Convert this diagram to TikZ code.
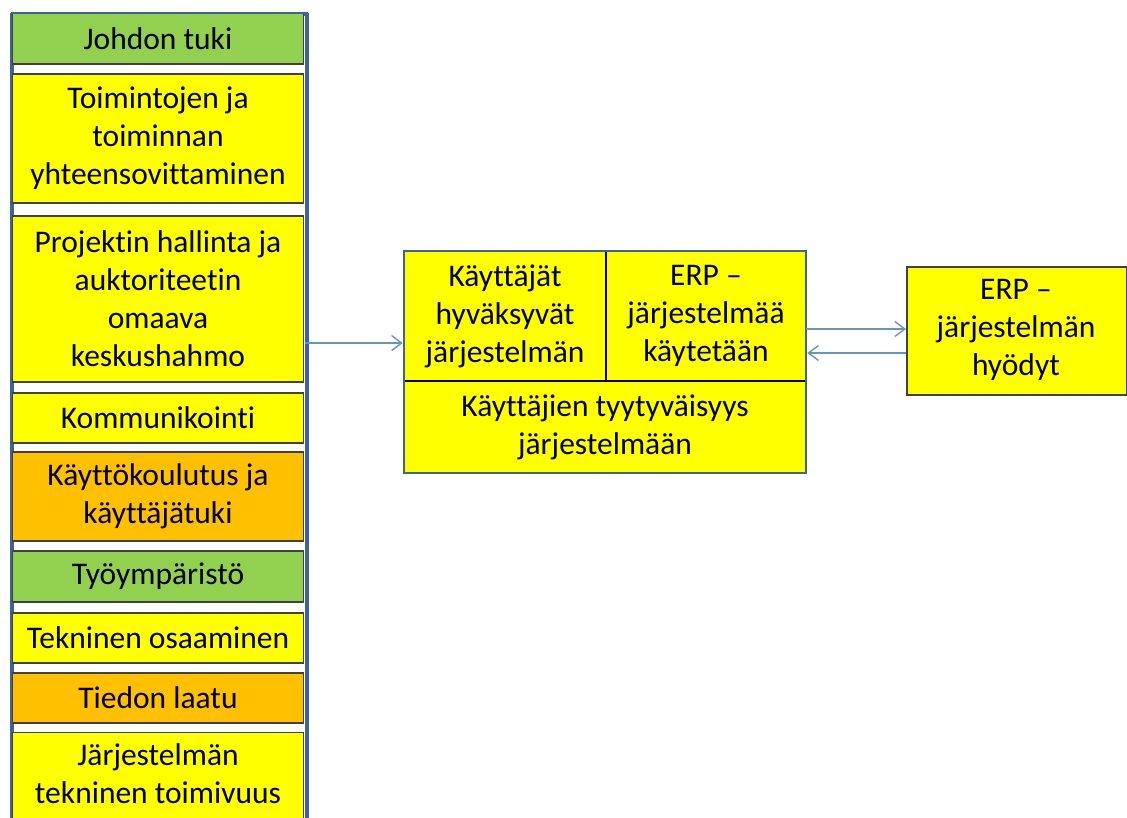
\documentclass[tikz,border=0pt]{standalone}
\usepackage{fontspec}
\setmainfont[Ligatures=NoCommon]{Carlito}
\usetikzlibrary{arrows.meta}
\definecolor{frameblue}{RGB}{62,100,150}
\definecolor{arrowblue}{RGB}{104,146,204}
\definecolor{boxgray}{RGB}{64,64,64}
\definecolor{ygreen}{RGB}{146,208,80}
\definecolor{yyellow}{RGB}{255,255,0}
\definecolor{yorange}{RGB}{255,192,0}
\begin{document}
\begin{tikzpicture}[x=1pt,y=-1pt,
  txt/.style={font=\fontsize{31.5}{38}\selectfont, align=center, text=black},
  lbox/.style={txt, draw=boxgray, line width=1.2pt, minimum width=291pt, inner sep=0pt},
  cell/.style={draw=black, line width=1.8pt, fill=yyellow, inner sep=0pt},
  arr/.style={draw=arrowblue, line width=1.4pt, -{Straight Barb[length=10pt,width=15pt,line width=1.4pt]}}]
\useasboundingbox (0,0) rectangle (1127,817);
\clip (0,0) rectangle (1127,817);
\fill[white] (0,0) rectangle (1127,817);

% left column frame
\node[draw=frameblue, line width=2.5pt, fill=white, minimum width=294pt, minimum height=830pt, inner sep=0pt, anchor=north west] (leftcol) at (11,13) {};

\node[lbox, fill=ygreen,  minimum height=51pt]  (n1) at (158,38.5) {Johdon tuki};
\node[lbox, fill=yyellow, minimum height=129pt] (n2) at (158,138.5) {Toimintojen ja\\toiminnan\\yhteensovittaminen};
\node[lbox, fill=yyellow, minimum height=166pt] (n3) at (158,299) {Projektin hallinta ja\\auktoriteetin\\omaava\\keskushahmo};
\node[lbox, fill=yyellow, minimum height=50pt]  (n4) at (158,418) {Kommunikointi};
\node[lbox, fill=yorange, minimum height=89pt]  (n5) at (158,496.5) {Käyttökoulutus ja\\käyttäjätuki};
\node[lbox, fill=ygreen,  minimum height=51pt]  (n6) at (158,576.5) {Työympäristö};
\node[lbox, fill=yyellow, minimum height=50pt]  (n7) at (158,638) {Tekninen osaaminen};
\node[lbox, fill=yorange, minimum height=50pt]  (n8) at (158,698) {Tiedon laatu};
\node[lbox, fill=yyellow, minimum height=110pt, anchor=north] (n9) at (158,732) {};
\node[txt] (t9) at (158,774) {Järjestelmän\\tekninen toimivuus};
\draw[frameblue, line width=2.5pt] (leftcol.north west) -- (leftcol.south west)
  (leftcol.north east) -- (leftcol.south east) (leftcol.north west) -- (leftcol.north east);

% middle box
\node[cell, minimum width=202pt, minimum height=130pt] (c1) at (505,316) {};
\node[cell, minimum width=200pt, minimum height=130pt] (c2) at (706,316) {};
\node[cell, minimum width=402pt, minimum height=92pt] (c3) at (605,427) {};
\node[txt] (t1) at (c1.center) {Käyttäjät\\hyväksyvät\\järjestelmän};
\node[txt] (t2) at (c2.center) {ERP –\\järjestelmää\\käytetään};
\node[txt] (t3) at (c3.center) {Käyttäjien tyytyväisyys\\järjestelmään};
\node[draw=frameblue, line width=2.5pt, minimum width=402pt, minimum height=222pt, inner sep=0pt] (mid) at (605,362) {};

% right box
\node[draw=boxgray, line width=1.5pt, fill=yyellow, minimum width=220pt, minimum height=128pt, inner sep=0pt, anchor=north west] (rbox) at (906,266) {};
\node[txt] (t4) at (1016,330) {ERP –\\järjestelmän\\hyödyt};

% connectors
\coordinate (a1) at (305,343);
\coordinate (a2) at (806,329);
\coordinate (a3) at (906,353);
\draw[arr] (a1) -- (a1 -| mid.west);
\draw[arr] (a2) -- (a2 -| rbox.west);
\draw[arr] (a3) -- (a3 -| mid.east);
\end{tikzpicture}
\end{document}
